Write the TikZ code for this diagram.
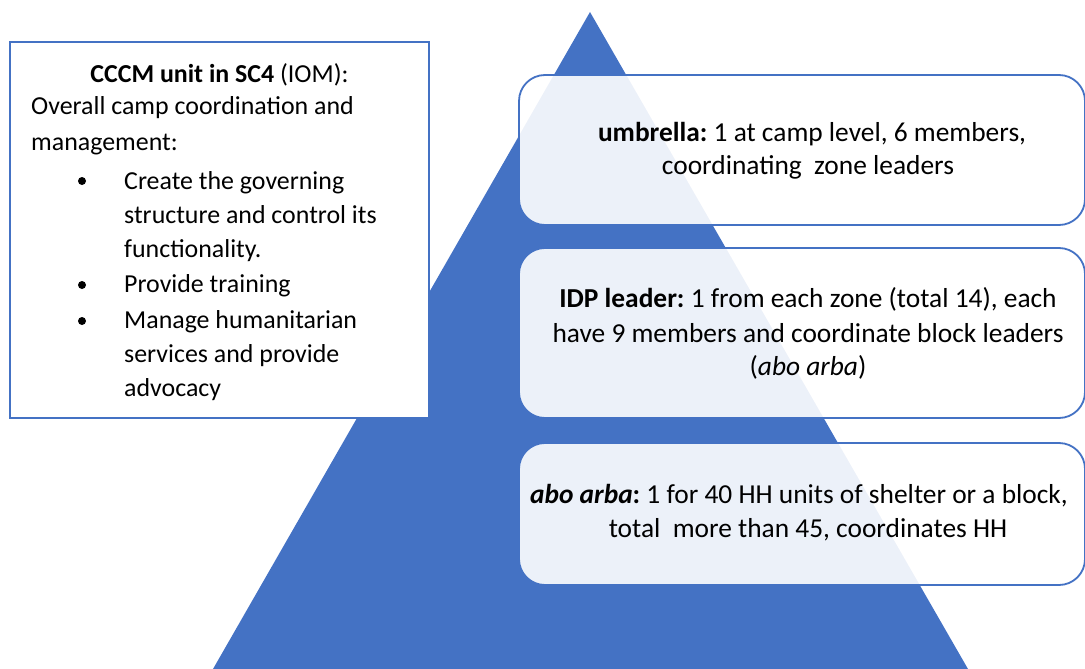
\documentclass[tikz,border=0pt]{standalone}
\usepackage{fontspec}
\setmainfont{Carlito}
\definecolor{tri}{HTML}{4472C4}
\frenchspacing
\begin{document}
\begin{tikzpicture}[x=1pt,y=-1pt,
  txt/.style={font=\fontsize{25.9}{30}\selectfont, inner sep=0pt, text=black},
  rtxt/.style={font=\fontsize{27.4}{32}\selectfont, inner sep=0pt, text=black, anchor=base},
  tier/.style={draw=tri, line width=1.8pt, fill=white, fill opacity=0.9, draw opacity=1, rounded corners=26pt, inner sep=0pt, minimum width=566pt},
  bul/.style={circle, fill=black, inner sep=0pt, minimum size=8pt}]
\useasboundingbox (0,0) rectangle (1085,669);
\clip (0,0) rectangle (1085,669);
% pyramid
\coordinate (apex) at (590,12);
\coordinate (br) at (968,669);
\coordinate (bl) at (213,669);
\fill[tri] (apex) -- (br) -- (bl) -- cycle;
% tiers
\node[tier, minimum height=150pt] (t1) at (802,150) {};
\node[tier, minimum height=170pt] (t2) at (802,333) {};
\node[tier, minimum height=142pt] (t3) at (802,514) {};
\node[rtxt] (t1a) at (812,141) {\textbf{umbrella:} 1 at camp level, 6 members,};
\node[rtxt] (t1b) at (808,174) {coordinating\ \ zone leaders};
\node[rtxt] (t2a) at (808,307) {\textbf{IDP leader:} 1 from each zone (total 14), each};
\node[rtxt] (t2b) at (808,342) {have 9 members and coordinate block leaders};
\node[rtxt] (t2c) at (808,375) {(\textit{abo arba})};
\node[rtxt] (t3a) at (799,503) {\textbf{\textit{abo arba}}\textbf{:} 1 for 40 HH units of shelter or a block,};
\node[rtxt] (t3b) at (808,537) {total\ \ more than 45, coordinates HH};
% left box
\node[draw=tri, line width=2pt, fill=white, minimum width=419pt, minimum height=376pt, inner sep=0pt] (cccm) at (219.5,230) {};
\node[txt, anchor=base] (h) at (219.5,82) {\textbf{CCCM unit in SC4} (IOM):};
\node[txt, anchor=base west] (l1) at (31,114) {Overall camp coordination and};
\node[txt, anchor=base west] (l2) at (31,150) {management:};
\node[txt, anchor=base west] (l3) at (124,189) {Create the governing};
\node[txt, anchor=base west] (l4) at (124,223) {structure and control its};
\node[txt, anchor=base west] (l5) at (124,257) {functionality.};
\node[txt, anchor=base west] (l6) at (124,292) {Provide training};
\node[txt, anchor=base west] (l7) at (124,328) {Manage humanitarian};
\node[txt, anchor=base west] (l8) at (124,362) {services and provide};
\node[txt, anchor=base west] (l9) at (124,396) {advocacy};
\node[bul] (b1) at (82,181) {};
\node[bul] (b2) at (82,285) {};
\node[bul] (b3) at (82,321) {};
\end{tikzpicture}
\end{document}
